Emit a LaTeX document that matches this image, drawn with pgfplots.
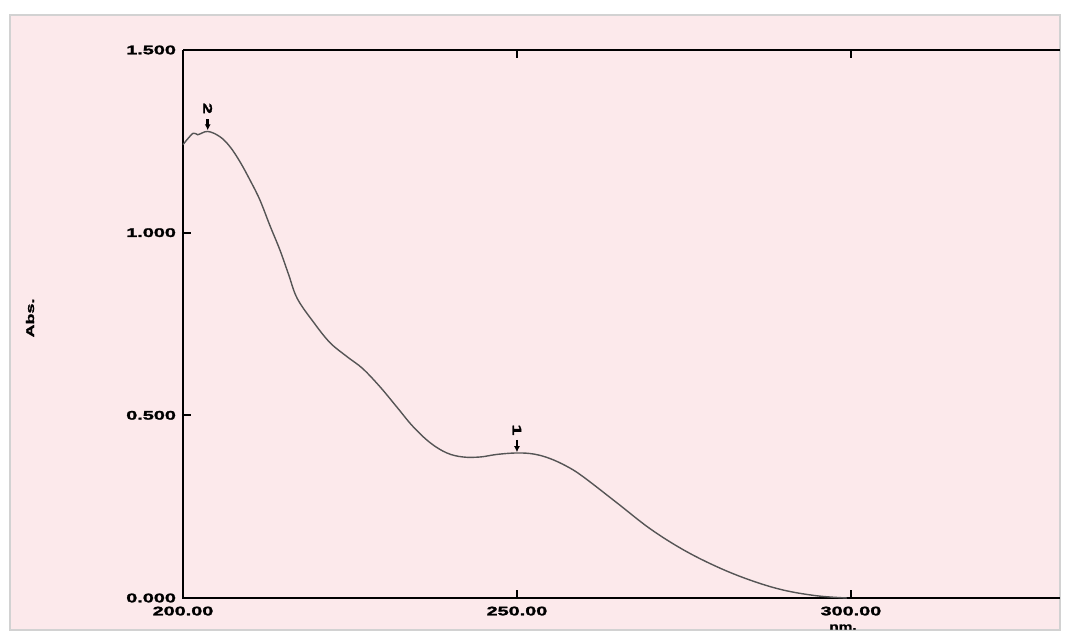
\documentclass[border=0pt]{standalone}
\usepackage{fontspec}
\setmainfont{Liberation Sans}
\newfontfamily\tickfont[FakeStretch=1.6,FakeBold=2]{Liberation Sans Bold}
\usepackage{pgfplots}
\pgfplotsset{compat=1.18}
\usetikzlibrary{arrows.meta}
\definecolor{panel}{RGB}{252,233,235}
\definecolor{curve}{RGB}{85,85,85}
\begin{document}
\begin{tikzpicture}[x=0.5pt,y=0.5pt]
\useasboundingbox (0,0) rectangle (1070,640);
\fill[white] (0,0) rectangle (1070,640);
\fill[panel] (10,10) rectangle (1060,625);
\draw[gray!35, line width=0.8pt] (10,10) rectangle (1060,625);
\begin{axis}[
  at={(91.5pt,21pt)}, anchor=south west,
  scale only axis, width=438.5pt, height=274pt,
  xmin=200, xmax=331.3, ymin=0, ymax=1.5,
  axis line style={draw=none},
  clip=false,
  tick align=inside,
  major tick length=4pt,
  tick style={black, line width=0.9pt},
  xtick={200,250,300}, xticklabels={200.00,250.00,300.00},
  ytick={0,0.5,1,1.5}, yticklabels={0.000,0.500,1.000,1.500},
  ytick pos=left,
  ticklabel style={font=\tickfont\fontsize{6.2}{7}\selectfont, text=black},
  xticklabel style={yshift=-0.8pt},
  yticklabel style={xshift=0pt},
]
\draw[black, line width=0.9pt] (rel axis cs:0,1) -- (rel axis cs:0,0) -- (rel axis cs:1,0);
\draw[black, line width=0.7pt] (rel axis cs:0,1) -- (rel axis cs:1,1);
\addplot[curve, line width=0.7pt, smooth, tension=0.6] coordinates {
(200.0,1.241) (201.5,1.272) (202.2,1.268) (203.7,1.277) (205.5,1.263)
(207.0,1.236) (208.5,1.195) (210.0,1.145) (211.5,1.090) (213.0,1.020)
(214.5,0.953) (215.8,0.886) (217.1,0.820) (219.5,0.756)
(222.0,0.699) (224.6,0.660) (226.9,0.628) (229.5,0.578) (232.0,0.523)
(234.4,0.470) (237.0,0.425) (239.5,0.397) (241.9,0.386) (244.5,0.386)
(247.0,0.393) (250.0,0.397) (252.5,0.394) (254.9,0.382) (257.5,0.360)
(259.9,0.332) (265.0,0.260) (269.9,0.190) (274.9,0.132) (280.0,0.085)
(284.9,0.049) (289.8,0.022) (294.9,0.006) (299.4,0.0)
};
\draw[-{Latex[length=3pt,width=3pt]}, line width=1.3pt] (axis cs:203.7,1.31) -- (axis cs:203.7,1.280);
\node[rotate=-90, font=\tickfont\fontsize{6.2}{7}\selectfont] at (axis cs:203.7,1.34) {2};
\draw[-{Latex[length=3pt,width=3pt]}, line width=1.3pt] (axis cs:250,0.433) -- (axis cs:250,0.399);
\node[rotate=-90, font=\tickfont\fontsize{6.2}{7}\selectfont] at (axis cs:250,0.460) {1};
\end{axis}
\node[rotate=90, font=\tickfont\fontsize{5.6}{6}\selectfont] at (30,322) {Abs.};
\node[font=\tickfont\fontsize{4.8}{5}\selectfont] at (843,13) {nm.};
\end{tikzpicture}
\end{document}
